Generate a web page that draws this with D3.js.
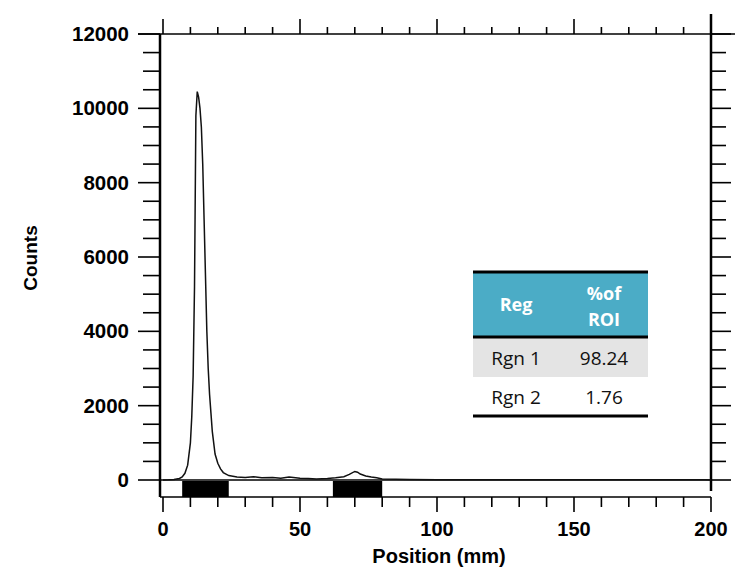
<!DOCTYPE html>
<html><head><meta charset="utf-8">
<script src="https://cdn.jsdelivr.net/npm/d3@7"></script>
<style>body{margin:0;background:#fff}svg{display:block}</style>
</head><body>
<svg id="c" width="735" height="571"></svg>
<script>
const positions = [0,2,4,6,7,8,9,10,10.5,11,11.5,12,12.5,13,13.5,14,14.5,15,15.5,16,16.5,17,17.5,18,19,20,21,22,24,27,30,33,36,40,43,46,50,53,56,60,63,66,68,70,71,72,74,76,78,80,85,90,100,120,150,180,198,200];
const counts    = [0,5,15,40,80,180,400,1000,1700,2800,5200,9800,10450,10300,10000,9500,8500,7000,5500,4000,3000,2300,1800,1300,700,450,300,200,120,80,70,90,60,70,50,80,50,40,30,40,60,90,150,230,210,160,110,80,60,30,20,15,10,10,10,10,10,0];
const yTicks = [0,2000,4000,6000,8000,10000,12000];
const xTicks = [0,50,100,150,200];
const regionStart = [7,62];
const regionEnd = [24,80];
const tableHeader = [["Reg"],["%of","ROI"]];
const tableRows = [["Rgn 1","98.24"],["Rgn 2","1.76"]];

const svg = d3.select("#c");
const x = d3.scaleLinear().domain([0,200]).range([163,711]);
const y = d3.scaleLinear().domain([0,12000]).range([480,34]);
const axisX = 160, stripBottom = 497;
const font = "'Liberation Sans', Arial, sans-serif";

// left axis
svg.append("line").attr("x1",axisX).attr("x2",axisX).attr("y1",y(12000)).attr("y2",stripBottom).attr("stroke","#000").attr("stroke-width",2.5);
// right axis
svg.append("line").attr("x1",x(200)).attr("x2",x(200)).attr("y1",y(12000)-20).attr("y2",stripBottom-6).attr("stroke","#000").attr("stroke-width",2.5);
// top axis line
svg.append("line").attr("x1",138).attr("x2",735).attr("y1",y(12000)).attr("y2",y(12000)).attr("stroke","#000").attr("stroke-width",1.6);
// baseline at 0
svg.append("line").attr("x1",axisX).attr("x2",x(200)).attr("y1",y(0)).attr("y2",y(0)).attr("stroke","#000").attr("stroke-width",1.5);
// bottom axis line
svg.append("line").attr("x1",axisX).attr("x2",x(200)).attr("y1",stripBottom).attr("y2",stripBottom).attr("stroke","#000").attr("stroke-width",1.6);

// y minor/major ticks
const yMinor = d3.range(0,12001,500);
svg.append("g").selectAll("line").data(yMinor).join("line")
  .attr("x1",d=>d%2000===0?138:143).attr("x2",axisX)
  .attr("y1",d=>y(d)).attr("y2",d=>y(d)).attr("stroke","#000").attr("stroke-width",1.6);
svg.append("g").selectAll("line").data(yMinor).join("line")
  .attr("x1",x(200)).attr("x2",d=>d%2000===0?x(200)+20:x(200)+15)
  .attr("y1",d=>y(d)).attr("y2",d=>y(d)).attr("stroke","#000").attr("stroke-width",1.6);
svg.append("g").selectAll("text").data(yTicks).join("text")
  .attr("x",129).attr("y",d=>y(d)+7).attr("text-anchor","end")
  .attr("font-family",font).attr("font-weight","bold").attr("font-size",20.5)
  .text(d=>d);

// x ticks
const xMinor = d3.range(0,201,10);
svg.append("g").selectAll("line").data(xMinor).join("line")
  .attr("x1",d=>x(d)).attr("x2",d=>x(d)).attr("y1",stripBottom)
  .attr("y2",d=>d%50===0?stripBottom+15:stripBottom+10).attr("stroke","#000").attr("stroke-width",1.6);
svg.append("g").selectAll("line").data(xMinor.filter(d=>d<200)).join("line")
  .attr("x1",d=>x(d)).attr("x2",d=>x(d)).attr("y1",y(12000))
  .attr("y2",d=>d%50===0?y(12000)-15:y(12000)-7).attr("stroke","#000").attr("stroke-width",1.6);
svg.append("g").selectAll("text").data(xTicks).join("text")
  .attr("x",d=>x(d)).attr("y",536).attr("text-anchor","middle")
  .attr("font-family",font).attr("font-weight","bold").attr("font-size",20)
  .text(d=>d);

// region bars
svg.append("g").selectAll("rect").data(regionStart).join("rect")
  .attr("x",(d)=>x(d)).attr("width",(d,i)=>x(regionEnd[i])-x(d))
  .attr("y",y(0)+1).attr("height",stripBottom-y(0)-1).attr("fill","#000");

// curve
const pts = positions.map((p,i)=>[p,counts[i]]);
svg.append("path").datum(pts)
  .attr("d",d3.line().x(d=>x(d[0])).y(d=>y(d[1])))
  .attr("fill","none").attr("stroke","#111").attr("stroke-width",1.5);

// axis labels
svg.append("text").attr("transform","translate(37,258) rotate(-90)").attr("text-anchor","middle")
  .attr("font-family",font).attr("font-weight","bold").attr("font-size",19).text("Counts");
svg.append("text").attr("x",439).attr("y",563).attr("text-anchor","middle")
  .attr("font-family",font).attr("font-weight","bold").attr("font-size",20).text("Position (mm)");

// table
const tx0 = 473, tx1 = 648, colC = [516, 604];
const tfont = "'Open Sans', 'Noto Sans', sans-serif";
svg.append("rect").attr("x",tx0).attr("y",272).attr("width",tx1-tx0).attr("height",64).attr("fill","#4bacc6");
svg.append("rect").attr("x",tx0).attr("y",338).attr("width",tx1-tx0).attr("height",39).attr("fill","#e4e4e4");
[272,337,416].forEach(v=>svg.append("line").attr("x1",tx0).attr("x2",tx1).attr("y1",v).attr("y2",v).attr("stroke","#000").attr("stroke-width",3));
tableHeader.forEach((lines,ci)=>{
  lines.forEach((t,li)=>{
    svg.append("text").attr("x",colC[ci]).attr("y",lines.length===1?311:(300+li*26))
      .attr("text-anchor","middle").attr("font-family",tfont).attr("font-weight","bold")
      .attr("font-size",18).attr("fill","#fff").text(t);
  });
});
tableRows.forEach((r,ri)=>{
  r.forEach((t,ci)=>{
    svg.append("text").attr("x",colC[ci]).attr("y",365+ri*39)
      .attr("text-anchor","middle").attr("font-family",tfont).attr("font-size",19).attr("fill","#111").text(t);
  });
});
</script>
</body></html>
